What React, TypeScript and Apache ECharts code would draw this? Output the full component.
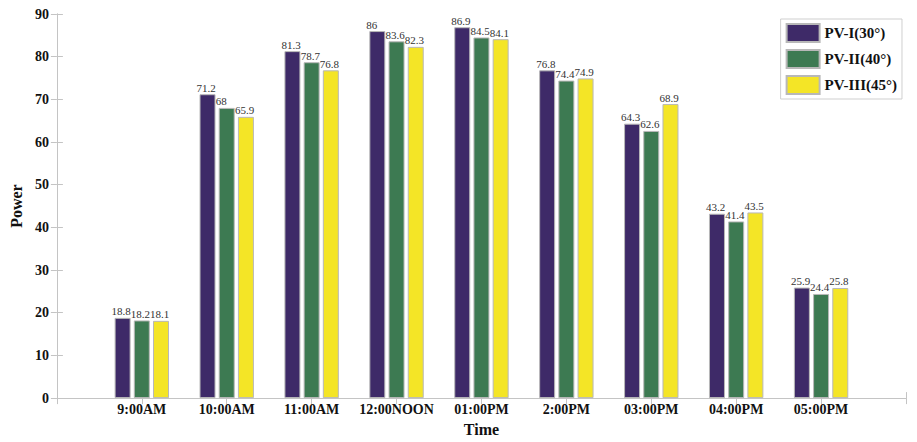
import React, { useEffect, useRef } from "react";
import * as echarts from "echarts";

const categories = ["9:00AM", "10:00AM", "11:00AM", "12:00NOON", "01:00PM", "2:00PM", "03:00PM", "04:00PM", "05:00PM"];
const pv1 = [18.8, 71.2, 81.3, 86, 86.9, 76.8, 64.3, 43.2, 25.9];
const pv2 = [18.2, 68, 78.7, 83.6, 84.5, 74.4, 62.6, 41.4, 24.4];
const pv3 = [18.1, 65.9, 76.8, 82.3, 84.1, 74.9, 68.9, 43.5, 25.8];
const seriesNames = ["PV-I(30°)", "PV-II(40°)", "PV-III(45°)"];
const colors = ["#3e2a68", "#3d7a52", "#f4e526"];
const yTicks = { min: 0, max: 90, interval: 10 };

const SERIF = "'Times New Roman', 'Liberation Serif', 'DejaVu Serif', serif";
const AXIS_COLOR = "#c4c4c4";

export default function App() {
  const ref = useRef<HTMLDivElement>(null);
  useEffect(() => {
    document.body.style.margin = "0";
    if (!ref.current) return;
    const chart = echarts.init(ref.current, null, { renderer: "svg" });
    const all = [pv1, pv2, pv3];
    const xMax = categories.length + 1;
    const series = all.map((vals, si) => ({
      name: seriesNames[si],
      type: "bar",
      xAxisIndex: 0,
      yAxisIndex: 0,
      barWidth: 16,
      barGap: "20%",
      data: vals.map((v, i) => [i + 1, v]),
      itemStyle: { color: colors[si], borderColor: "#b8b8b8", borderWidth: 1 },
      label: {
        show: true,
        position: [-3, -1],
        align: "left",
        verticalAlign: "bottom",
        fontFamily: SERIF,
        fontSize: 11,
        color: "#333",
        formatter: (p: any) => String(p.value[1]),
      },
    }));
    chart.setOption({
      animation: false,
      backgroundColor: "#fff",
      grid: { left: 52, right: 11, top: 14, bottom: 42 },
      legend: {
        orient: "vertical",
        right: 15,
        top: 19,
        itemWidth: 33,
        itemHeight: 18,
        itemGap: 6,
        padding: [4, 5, 4, 5],
        borderColor: "#cfcfcf",
        borderWidth: 1,
        backgroundColor: "#fff",
        icon: "rect",
        textStyle: { fontFamily: SERIF, fontSize: 15, fontWeight: "bold", color: "#111" },
        data: seriesNames,
      },
      xAxis: [
        {
          type: "value",
          min: 0,
          max: xMax,
          interval: 1,
          position: "bottom",
          name: "Time",
          nameLocation: "middle",
          nameGap: 22,
          nameTextStyle: { fontFamily: SERIF, fontSize: 16, fontWeight: "bold", color: "#111" },
          axisLine: { show: true, lineStyle: { color: AXIS_COLOR } },
          axisTick: { show: true, inside: true, length: 6, lineStyle: { color: AXIS_COLOR } },
          splitLine: { show: false },
          axisLabel: {
            fontFamily: SERIF,
            fontSize: 14,
            fontWeight: "bold",
            color: "#111",
            margin: 4,
            formatter: (v: number) => categories[v - 1] || "",
          },
        },
        {
          type: "value",
          min: 0,
          max: xMax,
          interval: 1,
          position: "top",
          axisLine: { show: true, lineStyle: { color: AXIS_COLOR } },
          axisTick: { show: true, inside: true, length: 6, lineStyle: { color: AXIS_COLOR } },
          axisLabel: { show: false },
          splitLine: { show: false },
        },
      ],
      yAxis: [
        {
          type: "value",
          ...yTicks,
          position: "left",
          name: "Power",
          nameLocation: "middle",
          nameGap: 28,
          nameTextStyle: { fontFamily: SERIF, fontSize: 16, fontWeight: "bold", color: "#111" },
          axisLine: { show: true, lineStyle: { color: AXIS_COLOR } },
          axisTick: { show: true, inside: true, length: 6, lineStyle: { color: AXIS_COLOR } },
          splitLine: { show: false },
          axisLabel: { fontFamily: SERIF, fontSize: 14, fontWeight: "bold", color: "#111", margin: 8 },
        },
        {
          type: "value",
          ...yTicks,
          position: "right",
          axisLine: { show: true, lineStyle: { color: AXIS_COLOR } },
          axisTick: { show: true, inside: true, length: 6, lineStyle: { color: AXIS_COLOR } },
          axisLabel: { show: false },
          splitLine: { show: false },
        },
      ],
      series,
    });
    return () => chart.dispose();
  }, []);
  return <div ref={ref} style={{ width: 917, height: 442 }} />;
}
